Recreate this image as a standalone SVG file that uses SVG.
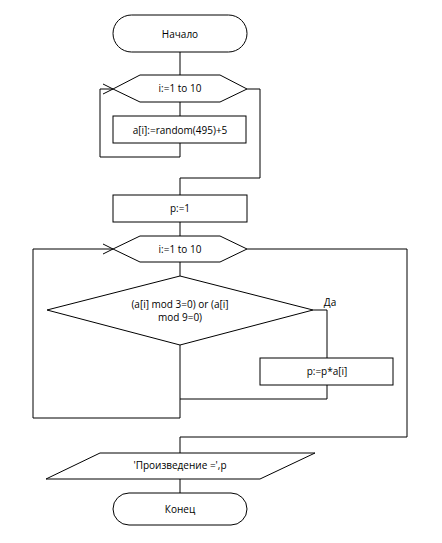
<svg xmlns="http://www.w3.org/2000/svg" width="442" height="543" viewBox="0 0 442 543">
<style>
.s{fill:#fff;stroke:#000;stroke-width:1}
.c{fill:none;stroke:#000;stroke-width:1}
text{font-family:"Open Sans","DejaVu Sans",sans-serif;font-size:10px;fill:#000;text-anchor:middle;dominant-baseline:central}
</style>
<defs>
<marker id="arr" markerUnits="userSpaceOnUse" markerWidth="12" markerHeight="12" refX="10" refY="5" orient="auto" overflow="visible">
<path d="M0,0 L10,5 L0,10" fill="none" stroke="#000" stroke-width="1"/>
</marker>
</defs>
<rect width="442" height="543" fill="#fff"/>
<g id="connectors">
<path class="c" d="M180,52 V75"/>
<path class="c" d="M180,102 V116"/>
<path class="c" d="M180,143 V157 H100 V89 H113" marker-end="url(#arr)"/>
<path class="c" d="M247,89 H260 V178 H180 V195"/>
<path class="c" d="M180,222 V236"/>
<path class="c" d="M180,262 V276"/>
<path class="c" d="M313,310 H327 V358"/>
<path class="c" d="M327,385 V399 H180"/>
<path class="c" d="M180,345 V418 H33 V249 H113" marker-end="url(#arr)"/>
<path class="c" d="M247,249 H407 V437 H180 V453"/>
<path class="c" d="M180,479 V493"/>
</g>
<g id="start">
<rect class="s" x="113" y="15" width="134" height="37" rx="18.5"/>
<text x="180" y="34">Начало</text>
</g>
<g id="loop1">
<polygon class="s" points="113,89 140,75 220,75 247,89 220,102 140,102"/>
<text x="180" y="88">i:=1 to 10</text>
</g>
<g id="assign">
<rect class="s" x="113" y="116" width="133" height="27"/>
<text x="180" y="129.5">a[i]:=random(495)+5</text>
</g>
<g id="init">
<rect class="s" x="113" y="195" width="134" height="27"/>
<text x="180" y="208">p:=1</text>
</g>
<g id="loop2">
<polygon class="s" points="113,249 140,236 220,236 247,249 220,262 140,262"/>
<text x="180" y="249">i:=1 to 10</text>
</g>
<g id="cond">
<polygon class="s" points="180,276 313,310 180,345 47,310"/>
<text x="180" y="304">(a[i] mod 3=0) or (a[i]</text>
<text x="180" y="316.5">mod 9=0)</text>
</g>
<text x="330" y="302">Да</text>
<g id="mult">
<rect class="s" x="260" y="358" width="133" height="27"/>
<text x="327" y="371">p:=p*a[i]</text>
</g>
<g id="output">
<polygon class="s" points="100,453 315,453 260,479 46,479"/>
<text x="180" y="465">'Произведение =',p</text>
</g>
<g id="end">
<rect class="s" x="113" y="493" width="134" height="32" rx="16"/>
<text x="180" y="509">Конец</text>
</g>
</svg>
